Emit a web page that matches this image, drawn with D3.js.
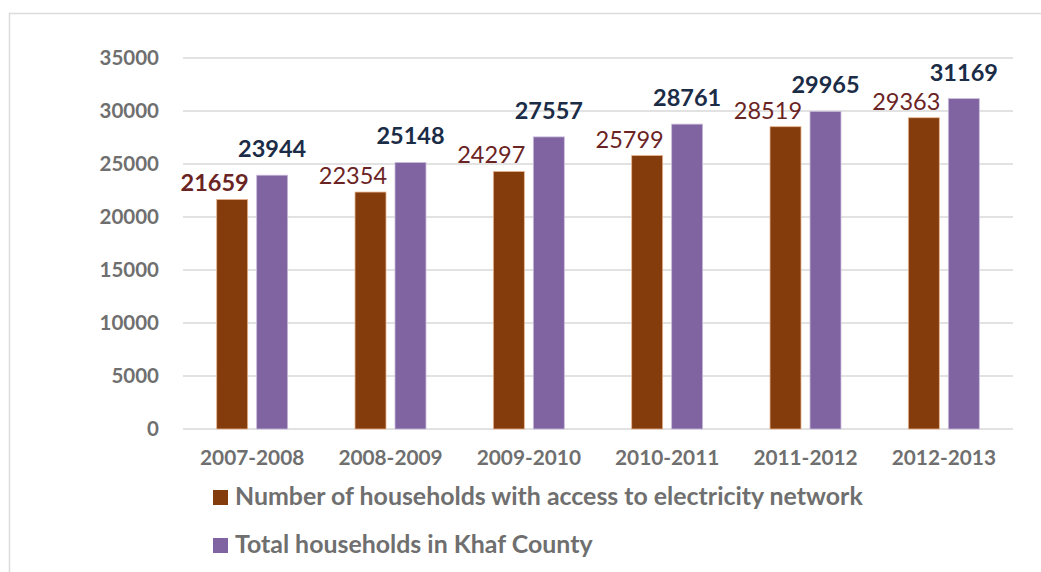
<!DOCTYPE html>
<html>
<head>
<meta charset="utf-8">
<script src="https://cdn.jsdelivr.net/npm/d3@7"></script>
<style>
  body { margin: 0; background: #fff; }
  text { font-family: Lato, "Open Sans", sans-serif; }
</style>
</head>
<body>
<div id="container"></div>
<script>
/* CONSTANTS AND GLOBALS */
const width = 1041;
const height = 572;

const years = ["2007-2008", "2008-2009", "2009-2010", "2010-2011", "2011-2012", "2012-2013"];
const withElectricity = [21659, 22354, 24297, 25799, 28519, 29363];
const totalHouseholds = [23944, 25148, 27557, 28761, 29965, 31169];
const seriesNames = ["Number of households with access to electricity network", "Total households in Khaf County"];
const yTicks = [0, 5000, 10000, 15000, 20000, 25000, 30000, 35000];

const fills = ["#843c0c", "#8064a2"];
const strokes = ["#e8b58f", "#c9bcdb"];
const gray = "#6f6f6f";

const data = years.map((y, i) => ({ year: y, values: [withElectricity[i], totalHouseholds[i]] }));

/* SCALES */
const xScale = d3.scaleBand()
  .domain(years)
  .range([183, 1013])
  .paddingInner(0.487)
  .paddingOuter(0.2435);

const xInner = d3.scaleBand()
  .domain([0, 1])
  .range([0, xScale.bandwidth()])
  .paddingInner(0.225);

const yScale = d3.scaleLinear()
  .domain([0, 35000])
  .range([429, 58]);

/* HTML ELEMENTS */
const svg = d3.select("#container")
  .append("svg")
  .attr("width", width)
  .attr("height", height);

// frame
svg.append("path")
  .attr("d", `M9.5,${height} V13.5 H${width}`)
  .attr("fill", "none")
  .attr("stroke", "#dcdcdc")
  .attr("stroke-width", 1.5);

// gridlines
svg.append("g")
  .selectAll("line")
  .data(yTicks)
  .join("line")
  .attr("x1", 183)
  .attr("x2", 1013)
  .attr("y1", d => yScale(d))
  .attr("y2", d => yScale(d))
  .attr("stroke", "#d9d9d9")
  .attr("stroke-width", 1.5);

// y axis
const yAxis = d3.axisLeft(yScale).tickValues(yTicks).tickFormat(d3.format("d")).tickSize(0).tickPadding(24);
svg.append("g")
  .attr("transform", "translate(183,0)")
  .call(yAxis)
  .call(g => g.select(".domain").remove())
  .selectAll("text")
  .attr("font-family", "Lato, sans-serif")
  .attr("font-size", 20.5)
  .attr("font-weight", "bold")
  .attr("fill", gray);

// x axis
const xAxis = d3.axisBottom(xScale).tickSize(0).tickPadding(21);
svg.append("g")
  .attr("transform", "translate(0,429)")
  .call(xAxis)
  .call(g => g.select(".domain").remove())
  .selectAll("text")
  .attr("font-family", "Lato, sans-serif")
  .attr("font-size", 20.8)
  .attr("font-weight", "bold")
  .attr("fill", gray);

// bars
const groups = svg.append("g")
  .selectAll("g")
  .data(data)
  .join("g")
  .attr("transform", d => `translate(${xScale(d.year)},0)`);

groups.selectAll("rect")
  .data(d => d.values.map((v, i) => ({ v, i })))
  .join("rect")
  .attr("x", d => xInner(d.i))
  .attr("y", d => yScale(d.v))
  .attr("width", xInner.bandwidth())
  .attr("height", d => yScale(0) - yScale(d.v))
  .attr("fill", d => fills[d.i])
  .attr("stroke", d => strokes[d.i])
  .attr("stroke-width", 0.8);

// labels, electricity series (sits left-ish over its bar)
groups.append("text")
  .attr("x", xInner(0) + xInner.bandwidth() + 1)
  .attr("y", d => yScale(d.values[0]) - 8)
  .attr("text-anchor", "end")
  .attr("font-size", 23.5)
  .attr("font-weight", (d, i) => i === 0 ? "bold" : "normal")
  .attr("fill", "#6b2424")
  .text(d => d.values[0]);

// labels, total series
groups.append("text")
  .attr("x", xInner(1) + xInner.bandwidth() / 2)
  .attr("y", d => yScale(d.values[1]) - 18)
  .attr("text-anchor", "middle")
  .attr("font-size", 23.5)
  .attr("font-weight", "bold")
  .attr("fill", "#1b2c47")
  .text(d => d.values[1]);

// legend
const legend = svg.append("g")
  .selectAll("g")
  .data(seriesNames)
  .join("g")
  .attr("transform", (d, i) => `translate(213,${490 + i * 48})`);

legend.append("rect")
  .attr("width", 15)
  .attr("height", 15)
  .attr("fill", (d, i) => fills[i]);

legend.append("text")
  .attr("x", 22)
  .attr("y", 15)
  .attr("font-size", 24.9)
  .attr("font-weight", "bold")
  .attr("fill", gray)
  .text(d => d);
</script>
</body>
</html>
